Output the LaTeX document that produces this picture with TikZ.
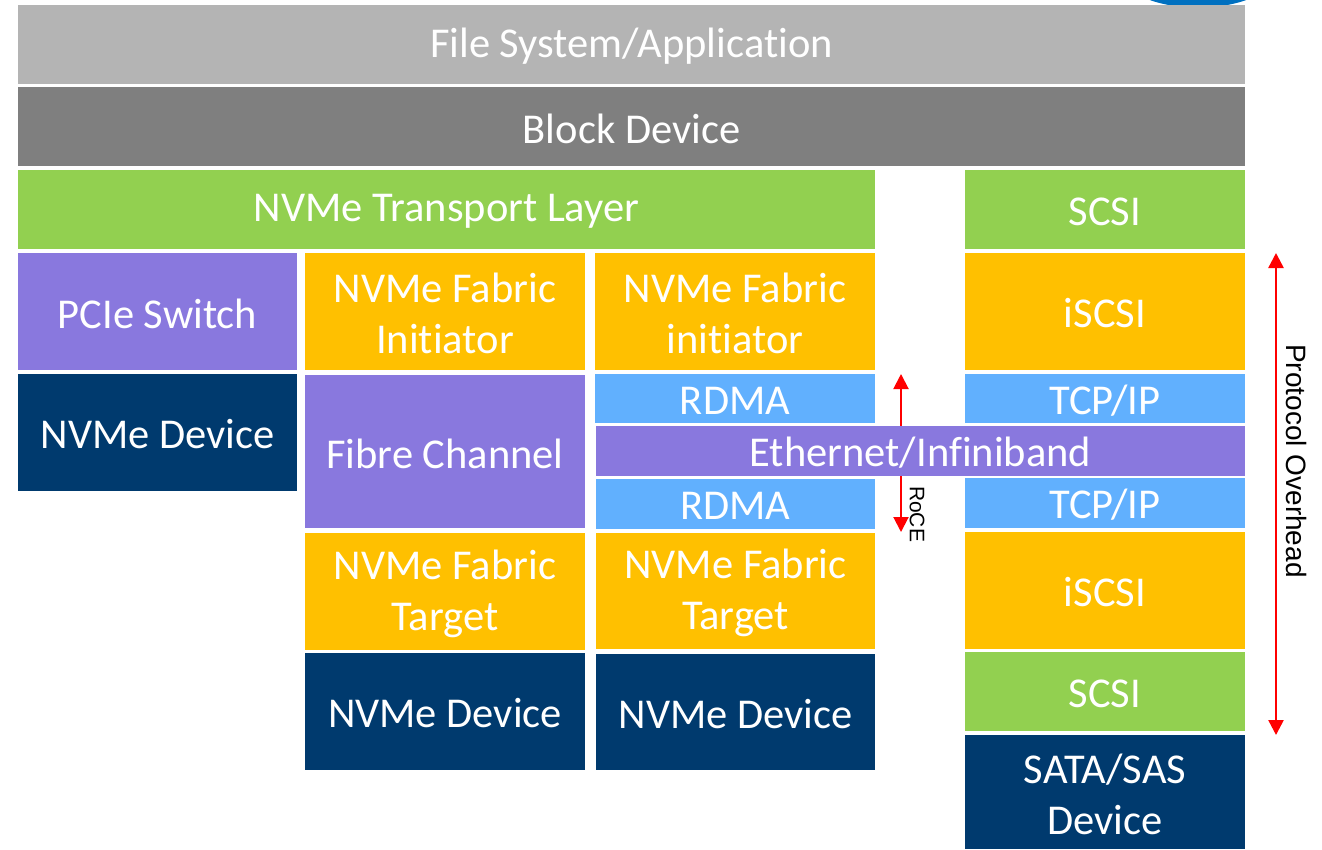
\documentclass[tikz,border=0pt]{standalone}
\usepackage{fontspec}
\setmainfont{Carlito}[Ligatures=NoCommon]
\newfontfamily\labelfont{Liberation Sans}
\usetikzlibrary{arrows.meta}

\definecolor{fsgray}{HTML}{B4B4B4}
\definecolor{bdgray}{HTML}{7F7F7F}
\definecolor{lgreen}{HTML}{92D050}
\definecolor{lpurple}{HTML}{8978DE}
\definecolor{lgold}{HTML}{FFC000}
\definecolor{lsky}{HTML}{61B0FE}
\definecolor{lnavy}{HTML}{003A6E}
\definecolor{logoblue}{HTML}{0070C0}

\tikzset{
  blk/.style={draw=none, inner sep=0pt, outer sep=0pt},
  blktext/.style={inner sep=0pt, text=white, align=center,
    font=\fontsize{42.5}{51}\selectfont},
  overhead/.style={draw=red, line width=2.5pt,
    {Triangle[length=15pt,width=15pt]}-{Triangle[length=15pt,width=15pt]}},
  sidelabel/.style={inner sep=0pt, text=black, rotate=-90}
}

% one layer of the stack: name, x1, y1, x2, y2, fill, text
\newcommand\layer[7]{%
  \node[blk, fill=#6, minimum width={(#4-#2)*1pt}, minimum height={(#5-#3)*1pt},
        anchor=north west] (#1) at (#2,#3) {};
  \node[blktext] (#1-t) at ([yshift=-2pt]#1.center) {#7};}

\begin{document}
\begin{tikzpicture}[x=1pt, y=-1pt]
\useasboundingbox (0,0) rectangle (1322,849);
\clip (0,0) rectangle (1322,849);

% logo corner peeking in at the top
\fill[logoblue] (1198,-22.5) ellipse [x radius=73, y radius=30];

% arrows sit behind the layers they cross
\coordinate (roceT) at (901,374);
\coordinate (roceB) at (901,532);
\draw[overhead, line width=2pt] (roceT) -- (roceB);
\node[sidelabel, font=\labelfont\fontsize{21}{24}\selectfont] (roce) at (917,514) {RoCE};

\coordinate (poT) at (1276,253);
\coordinate (poB) at (1276,735);
\draw[overhead] (poT) -- (poB);
\node[sidelabel, font=\labelfont\fontsize{28}{31}\selectfont] (po) at (1296,461) {Protocol Overhead};

% shared layers
\layer{fs}{18}{5}{1245}{84}{fsgray}{File System/Application}
\layer{bd}{18}{87}{1245}{166}{bdgray}{Block Device}
\layer{ntl}{18}{170}{875}{249}{lgreen}{NVMe Transport Layer}

% local PCIe path
\layer{pcie}{18}{253}{297}{370}{lpurple}{PCIe Switch}
\layer{dev1}{18}{374}{297}{491}{lnavy}{NVMe Device}

% NVMe over Fibre Channel
\layer{ini1}{305}{253}{585}{370}{lgold}{NVMe Fabric\\Initiator}
\layer{fc}{305}{375}{585}{528}{lpurple}{Fibre Channel}
\layer{tgt1}{305}{533}{585}{650}{lgold}{NVMe Fabric\\Target}
\layer{dev2}{305}{653}{585}{770}{lnavy}{NVMe Device}

% NVMe over RDMA
\layer{ini2}{595}{253}{875}{370}{lgold}{NVMe Fabric\\initiator}
\layer{rdma1}{595}{374}{875}{423}{lsky}{RDMA}
\layer{rdma2}{596}{479}{875}{529}{lsky}{RDMA}
\layer{tgt2}{596}{533}{875}{649}{lgold}{NVMe Fabric\\Target}
\layer{dev3}{596}{654}{875}{770}{lnavy}{NVMe Device}

% iSCSI stack
\layer{scsi1}{965}{170}{1245}{249}{lgreen}{SCSI}
\layer{iscsi1}{965}{253}{1245}{370}{lgold}{iSCSI}
\layer{tcp1}{965}{374}{1245}{423}{lsky}{TCP/IP}
\layer{tcp2}{965}{478}{1245}{528}{lsky}{TCP/IP}
\layer{iscsi2}{965}{532}{1245}{649}{lgold}{iSCSI}
\layer{scsi2}{965}{652}{1245}{731}{lgreen}{SCSI}
\layer{sata}{965}{735}{1245}{849}{lnavy}{SATA/SAS\\Device}

% network shared by RDMA and iSCSI
\layer{eth}{596}{426}{1245}{476}{lpurple}{Ethernet/Infiniband}
\end{tikzpicture}
\end{document}
